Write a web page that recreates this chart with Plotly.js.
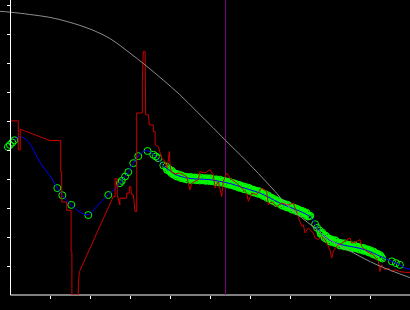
<!DOCTYPE html>
<html><head><meta charset="utf-8">
<script src="https://cdn.plot.ly/plotly-3.0.1.min.js"></script>
<style>html,body{margin:0;padding:0;background:#000;}#chart{width:410px;height:310px;}</style>
</head><body><div id="chart"></div>
<script>
// Gray reference curve
const grayX = [-2.6,0,4.9,9.9,14.9,19.9,24.9,29.9,33.7,38.2,42.4,46.7,50.7,53.7,59.2,64.9,69.9,75.7,79.9,85.7,91.7,99.9];
const grayY = [97.9,97.6,96.8,95.8,94.1,91.8,88.5,83.5,79.4,74.2,69.1,63.2,57.7,53.5,46.0,37.7,30.1,23.6,19.1,14.6,10.4,6.0];

// Red raw series
const redX = [0,2.0,2.0,2.5,2.5,9.9,12.6,12.6,12.85,12.85,14.1,14.1,15.2,15.2,15.4,15.4,17.0,17.0,17.25,17.4,25.75,26.2,26.2,26.75,26.75,27.2,27.4,27.4,29.1,29.1,29.75,29.75,30.1,30.35,30.75,31.2,31.4,31.6,31.6,33.0,33.0,33.25,33.7,33.7,33.85,34.5,34.75,35.75,35.75,36.2,36.2,37.0,37.85,38.7,39.1,39.5,39.75,39.9,40.2,41.2,42.4,44.1,44.9,45.35,47.0,47.4,48.7,49.9,50.75,51.2,52.0,52.85,53.25,54.1,54.9,56.6,57.4,59.1,59.5,60.35,61.6,62.85,64.1,64.5,65.35,66.6,67.85,69.5,70.75,72.0,72.85,73.25,73.7,74.5,75.75,76.2,77.0,77.85,78.7,79.9,80.35,80.75,81.6,84.9,85.35,86.6,87.4,87.85,89.1,90.75,92.0,92.4,92.85,93.7,94.5,95.35,96.2,97.4,98.7,99.9];
const redY = [60.1,60.1,50.1,50.1,57.2,53.3,53.3,42.6,42.6,32.1,32.1,29.2,29.2,15.0,15.0,0,0,3.0,8.1,8.4,34.0,34.0,40.1,40.1,34.6,31.7,31.1,33.4,33.4,35.2,35.2,37.4,37.4,34.6,34.6,28.8,28.8,28.8,62.8,62.8,73.1,84.0,84.0,73.1,62.2,62.2,58.7,58.7,56.4,56.4,51.8,51.2,47.2,46.1,43.8,46.6,49.5,45.5,42.6,41.8,42.1,40.9,36.3,38.6,39.8,42.6,42.1,43.2,41.5,36.9,39.2,34.0,39.2,42.1,40.3,38.6,37.4,35.2,32.3,35.2,34.6,36.9,35.7,31.1,32.3,30.5,31.7,31.1,31.7,26.5,23.7,24.2,21.4,23.1,21.4,19.7,19.1,20.2,19.1,15.6,12.8,15.0,16.8,19.7,17.9,18.5,19.1,16.8,15.0,13.9,11.6,8.1,10.4,8.7,9.3,8.1,8.7,8.1,7.8,7.8];

// Blue fitted curve
const blueX = [1.0,2.0,2.85,4.1,5.35,6.6,7.85,9.1,10.35,11.75,13.0,15.25,17.4,19.5,21.6,24.5,26.2,27.4,28.7,29.5,30.75,32.0,33.0,34.3,35.75,37.0,38.25,39.9,41.2,42.4,44.9,47.4,49.9,52.4,54.9,57.4,59.9,62.4,64.9,67.4,69.9,72.4,74.9,76.2,77.4,78.7,79.9,82.4,84.9,87.4,89.9,92.4,95.4,96.4,97.4,98.7,99.9];
const blueY = [53.4,54.5,54.5,53.5,51.2,47.8,44.9,42.6,40.3,36.9,34.4,31.1,28.6,27.7,30.5,34.6,36.7,38.6,40.9,42.4,45.5,47.9,49.3,49.8,48.6,46.8,44.6,42.9,41.6,41.0,40.2,40.0,39.8,39.2,38.5,37.4,36.3,35.2,33.5,31.7,30.3,28.9,27.0,24.6,21.8,20.1,18.9,17.5,16.8,16.1,15.0,13.4,11.6,11.0,10.4,9.3,9.0];

// Green measured points
const greenX = [-0.6,-0.1,0.5,1.0,11.75,13.0,15.25,19.5,24.5,27.4,27.85,28.7,29.5,30.75,32.0,34.3,35.75,36.4,37.0,38.25,
39.0,39.4,39.8,40.2,40.6,41.0,41.4,41.8,42.2,42.6,43.0,43.4,43.8,44.2,44.6,45.0,45.4,45.8,46.2,46.6,47.0,47.4,47.8,48.2,48.6,49.0,49.4,49.8,50.2,50.6,51.0,51.4,51.8,52.2,52.6,53.0,53.4,53.8,54.2,54.6,55.0,55.4,55.8,56.2,56.6,57.0,57.4,57.8,58.2,58.6,59.0,59.4,59.8,60.2,60.6,61.0,61.4,61.8,62.2,62.6,63.0,63.4,63.8,64.2,64.6,65.0,65.4,65.8,66.2,66.6,67.0,67.4,67.8,68.2,68.6,69.0,69.4,69.8,70.2,70.6,71.0,71.4,71.8,72.2,72.6,73.0,73.4,73.8,74.2,74.6,75.0,
76.2,76.7,
77.4,77.8,78.2,78.6,79.0,79.4,79.8,80.2,80.6,81.0,81.4,81.8,82.2,82.6,83.0,83.4,83.8,84.2,84.6,85.0,85.4,85.8,86.2,86.6,87.0,87.4,87.8,88.2,88.6,89.0,89.4,89.8,90.2,90.6,91.0,91.4,91.8,92.2,92.6,93.0,
95.4,96.4,97.4];
const greenY = [51.1,51.8,52.6,53.4,36.9,34.4,31.1,27.6,34.5,38.6,39.4,40.9,42.4,45.5,47.9,49.7,48.4,47.8,47.2,44.7,
44.3,43.1,43.1,42.1,42.4,41.6,41.8,41.0,41.2,40.4,41.0,40.4,40.8,40.0,40.4,39.7,40.5,40.0,40.5,39.8,40.1,39.5,40.3,39.8,40.3,39.6,39.9,39.3,40.0,39.5,39.9,39.2,39.5,38.8,39.5,39.0,39.4,38.6,38.8,38.1,38.8,38.2,38.6,37.7,37.9,37.1,37.7,37.1,37.5,36.6,36.9,36.1,36.7,36.1,36.4,35.5,35.7,35.0,35.6,35.0,35.2,34.3,34.4,33.5,34.0,33.3,33.5,32.5,32.6,31.7,32.3,31.6,31.8,30.9,31.0,30.3,30.9,30.3,30.5,29.6,29.8,29.0,29.4,28.9,29.2,28.3,28.5,27.6,28.0,27.2,27.3,
24.4,23.2,
22.2,21.0,20.9,19.7,20.1,19.3,19.4,18.5,18.7,18.0,18.6,17.9,18.0,17.2,17.5,16.8,17.5,16.9,17.3,16.5,16.8,16.1,16.8,16.3,16.6,15.8,16.0,15.3,15.9,15.4,15.7,14.8,14.9,14.1,14.6,14.0,14.2,13.2,13.4,12.6,
11.6,11.0,10.4];

// Additional green points filling the dense band
const greenDenseX = [39.2,39.6,40.0,40.4,40.8,41.2,41.6,42.0,42.4,42.8,43.2,43.6,44.0,44.4,44.8,45.2,45.6,46.0,46.4,46.8,47.2,47.6,48.0,48.4,48.8,49.2,49.6,50.0,50.4,50.8,51.2,51.6,52.0,52.4,52.8,53.2,53.6,54.0,54.4,54.8,55.2,55.6,56.0,56.4,56.8,57.2,57.6,58.0,58.4,58.8,59.2,59.6,60.0,60.4,60.8,61.2,61.6,62.0,62.4,62.8,63.2,63.6,64.0,64.4,64.8,65.2,65.6,66.0,66.4,66.8,67.2,67.6,68.0,68.4,68.8,69.2,69.6,70.0,70.4,70.8,71.2,71.6,72.0,72.4,72.8,73.2,73.6,74.0,74.4,74.8,
77.6,78.0,78.4,78.8,79.2,79.6,80.0,80.4,80.8,81.2,81.6,82.0,82.4,82.8,83.2,83.6,84.0,84.4,84.8,85.2,85.6,86.0,86.4,86.8,87.2,87.6,88.0,88.4,88.8,89.2,89.6,90.0,90.4,90.8,91.2,91.6,92.0,92.4,92.8];
const greenDenseY = [43.2,43.6,42.6,42.9,41.5,41.8,40.9,41.6,40.8,41.3,40.2,40.7,39.9,40.7,40.1,40.7,39.8,40.3,39.6,40.5,39.8,40.5,39.6,40.1,39.4,40.3,39.6,40.3,39.3,39.8,39.0,39.9,39.2,39.8,38.8,39.3,38.5,39.2,38.5,39.1,38.0,38.5,37.6,38.3,37.5,38.0,36.9,37.4,36.5,37.3,36.5,37.0,35.9,36.3,35.4,36.1,35.4,35.9,34.8,35.2,34.2,34.9,34.0,34.4,33.2,33.5,32.5,33.1,32.2,32.6,31.5,31.8,30.8,31.5,30.7,31.2,30.1,30.5,29.5,30.2,29.4,29.8,28.7,29.1,28.2,28.9,28.1,28.4,27.1,27.3,
21.1,21.5,20.3,20.5,19.2,19.4,18.4,19.1,18.4,18.9,17.8,18.0,17.1,17.9,17.2,17.8,16.7,17.2,16.4,17.2,16.5,17.1,16.1,16.5,15.7,16.4,15.7,16.2,15.2,15.6,14.7,15.4,14.5,15.0,13.8,14.2,13.2,13.8,13.0];

const cursorX = 53.8;
const xTickVals = [10,20,30,40,50,60,70,80,90];
const yTickVals = [10,20,30,40,50,60,70,80,90,100];

const allGreenX = greenX.concat(greenDenseX);
const allGreenY = greenY.concat(greenDenseY);

const traces = [
  {x: allGreenX, y: allGreenY, type: 'scatter', mode: 'markers',
   marker: {symbol: 'circle-open', size: 7, color: '#00ff00', line: {width: 1, color: '#00ff00'}}, hoverinfo: 'skip'},
  {x: blueX, y: blueY, type: 'scatter', mode: 'lines',
   line: {color: '#0000ff', width: 1, shape: 'spline'}, hoverinfo: 'skip'},
  {x: redX, y: redY, type: 'scatter', mode: 'lines',
   line: {color: '#cc0000', width: 1}, hoverinfo: 'skip'},
  {x: grayX, y: grayY, type: 'scatter', mode: 'lines',
   line: {color: '#8c8c8c', width: 1, shape: 'spline'}, hoverinfo: 'skip'}
];

const layout = {
  width: 410, height: 310,
  margin: {l: 0, r: 0, t: 0, b: 15, pad: 0},
  paper_bgcolor: '#000', plot_bgcolor: '#000',
  showlegend: false,
  xaxis: {range: [-2.575, 99.925], showgrid: false, zeroline: false, showline: false,
          ticks: 'outside', ticklen: 3, tickwidth: 1, tickcolor: '#fff',
          tickmode: 'array', tickvals: xTickVals, showticklabels: false, fixedrange: true},
  yaxis: {range: [0, 101.8], anchor: 'free', position: 10.3/410, showgrid: false, zeroline: false,
          showline: true, linecolor: '#fff', linewidth: 1,
          ticks: 'outside', ticklen: 3, tickwidth: 1, tickcolor: '#fff',
          tickmode: 'array', tickvals: yTickVals, showticklabels: false, fixedrange: true},
  shapes: [
    {type: 'line', xref: 'x', yref: 'paper', x0: 0, x1: 99.925, y0: 0, y1: 0,
     line: {color: '#fff', width: 1}, layer: 'below'},
    {type: 'line', xref: 'x', yref: 'paper', x0: cursorX, x1: cursorX, y0: 0, y1: 1,
     line: {color: '#800080', width: 1}, layer: 'below'}
  ]
};

Plotly.newPlot('chart', traces, layout, {displayModeBar: false, staticPlot: true});
</script>
</body></html>
